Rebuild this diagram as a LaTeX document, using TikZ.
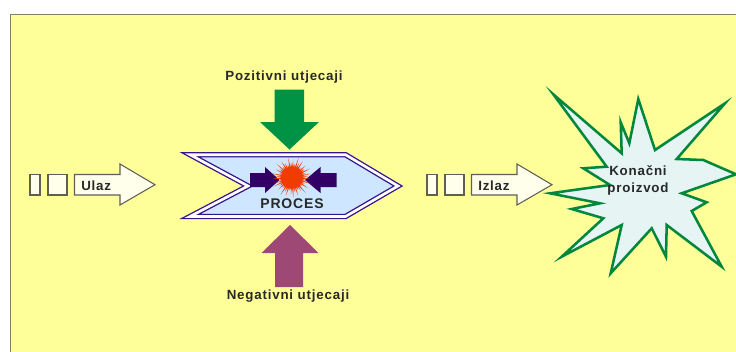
\documentclass[tikz,border=0pt]{standalone}
\usepackage{fontspec}
\setmainfont[LetterSpace=6]{Liberation Sans}
\usepackage{tikz}
\usetikzlibrary{positioning, calc}

\begin{document}
\begin{tikzpicture}[x=0.75pt, y=-0.75pt, font=\fontsize{10}{12.75}\selectfont\bfseries, align=center, line join=miter]
        % Define colors
        \definecolor{bgyellow}{RGB}{255,255,153}
        \definecolor{framegray}{RGB}{128,128,100}
        \definecolor{ivory}{RGB}{255,255,236}
        \definecolor{boxgray}{RGB}{95,95,85}
        \definecolor{textgray}{RGB}{40,40,40}
        \definecolor{procblue}{RGB}{206,230,255}
        \definecolor{procline}{RGB}{55,20,140}
        \definecolor{innerarrow}{RGB}{51,0,102}
        \definecolor{burst}{RGB}{240,60,0}
        \definecolor{posgreen}{RGB}{0,146,69}
        \definecolor{negpurple}{RGB}{158,72,118}
        \definecolor{stargreen}{RGB}{0,135,62}
        \definecolor{starfill}{RGB}{230,244,244}

        \useasboundingbox (0,0) rectangle (736,351);
        \path[clip] (0,0) rectangle (736,351);

        % Frame
        \draw[fill=bgyellow, draw=framegray, line width=1.2pt] (10.5,14.5) rectangle (760,370);

        % Input and output arrows
        \foreach \x/\name/\txt in {30/ulaz/Ulaz, 427/izlaz/Izlaz} {
            \draw[fill=ivory, draw=boxgray, line width=0.8pt] (\x,174.5) rectangle (\x+10,195);
            \draw[fill=ivory, draw=boxgray, line width=0.8pt] (\x+18,174.5) rectangle (\x+37,195);
            \draw[fill=ivory, draw=boxgray, line width=0.8pt] (\x+44.5,174.5) -- (\x+90,174.5) -- (\x+90,164) -- (\x+125,184.7) -- (\x+90,205) -- (\x+90,195) -- (\x+44.5,195) -- cycle;
            \node[anchor=base west, text=textgray, inner sep=0pt] (\name) at (\x+51,190.8) {\txt};
        }

        % Process
        \draw[fill=procblue, draw=procline, line width=1pt, double=white, double distance=2pt] (190,154.7) -- (345.5,154.7) -- (398,186) -- (345.5,216.5) -- (190,216.5) -- (248,186) -- cycle;
        \fill[innerarrow] (250,173) -- (265,173) -- (265,167) -- (279.5,180) -- (265,193) -- (265,187) -- (250,187) -- cycle;
        \fill[innerarrow] (336.5,173) -- (320.5,173) -- (320.5,167) -- (305,180) -- (320.5,193) -- (320.5,187) -- (336.5,187) -- cycle;
        \coordinate (spark) at (292,177.5);
        \fill[burst] ($(spark)+(0:10)$) \foreach \r [count=\k] in {18,15,20,14,19,13,21,16,14,19,15,20,17,13,19,16,21,14,18,15,20,16,14,19,16,21,13,18,15,20,14,19,16,13,20,15,18,14,21,16,19,13,18,15,20,14,19,16} { -- ($(spark)+(7.5*\k-3.75:\r)$) -- ($(spark)+(7.5*\k:10)$) } -- cycle;
        \node[font=\fontsize{10.5}{12}\selectfont\bfseries, text=textgray, inner sep=0pt] (proces) at (292,203.3) {PROCES};

        % Influences
        \fill[posgreen] (274.5,89.5) -- (304,89.5) -- (304,122) -- (319,122) -- (289.5,149.5) -- (260,122) -- (274.5,122) -- cycle;
        \fill[negpurple] (275,287) -- (303,287) -- (303,253) -- (318.5,253) -- (290,225) -- (261.5,253) -- (275,253) -- cycle;
        \node[anchor=base, text=textgray, inner sep=0pt] (pozitivni) at (284,80.7) {Pozitivni utjecaji};
        \node[anchor=base, text=textgray, inner sep=0pt] (negativni) at (288,299.5) {Negativni utjecaji};

        % Final product
        \draw[fill=starfill, draw=stargreen, line width=1.9pt] (553.3,94.3) -- (621.7,153.3) -- (620.7,122.3) -- (629.3,143.3) -- (638.3,99) -- (655,150) -- (725,103.3) -- (676.7,159) -- (703.3,160) -- (736,174.3) -- (681.7,193.3) -- (706.7,202.3) -- (691.7,211) -- (721.7,266.7) -- (666.7,225) -- (666,256.7) -- (651.7,228.3) -- (610.7,273.3) -- (621.7,225) -- (561.7,256.7) -- (603.3,218.3) -- (571.7,209) -- (600,203.3) -- (550,193.3) -- (610,185) -- (583.3,168.3) -- (606.7,166.7) -- cycle;
        \node[text=textgray, inner sep=0pt] (proizvod) at (638,180.5) {Konačni\\proizvod};
\end{tikzpicture}
\end{document}
